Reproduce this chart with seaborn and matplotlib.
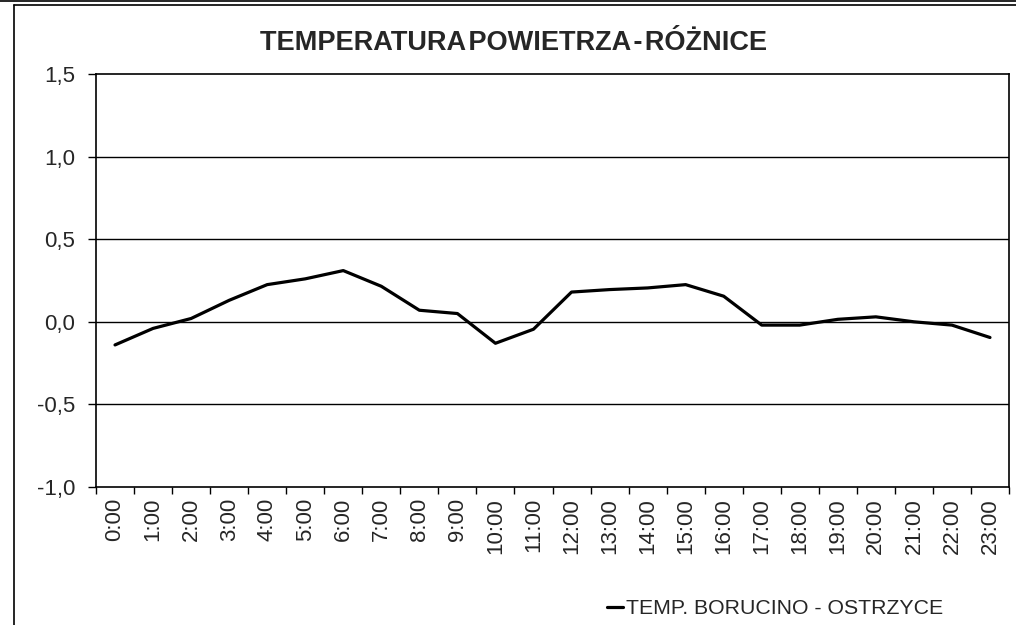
import numpy as np
import pandas as pd
import matplotlib
matplotlib.use("Agg")
import matplotlib.pyplot as plt
from matplotlib.lines import Line2D
import seaborn as sns

# ---- data ----
hours = [f"{h}:00" for h in range(24)]
diff_values = [-0.14, -0.04, 0.02, 0.13, 0.225, 0.26, 0.31, 0.215, 0.07, 0.05,
               -0.13, -0.045, 0.18, 0.195, 0.205, 0.225, 0.155, -0.02, -0.02, 0.015,
               0.03, 0.0, -0.02, -0.095]
series_name = "TEMP. BORUCINO - OSTRZYCE"
title_text = "TEMPERATURA\u200aPOWIETRZA\u200a-\u200aRÓŻNICE"
y_ticks = [-1.0, -0.5, 0.0, 0.5, 1.0, 1.5]
y_tick_labels = ["-1,0", "-0,5", "0,0", "0,5", "1,0", "1,5"]

sns.set_style("white")
plt.rcParams['font.family'] = ['Liberation Sans', 'DejaVu Sans']

W, H = 1016, 625
fig = plt.figure(figsize=(W / 100, H / 100), dpi=100)
ax = fig.add_axes([96 / W, 1 - 487 / H, (1009 - 96) / W, (487 - 74) / H])

df = pd.DataFrame({"pos": np.arange(len(hours)), "val": diff_values, "series": series_name})
sns.lineplot(data=df, x="pos", y="val", hue="series", palette=["black"],
             linewidth=2.3, ax=ax, legend=True)

ax.set_xlim(-0.5, len(hours) - 0.5)
ax.set_ylim(-1.0, 1.5)

# y axis
ax.set_yticks(y_ticks)
ax.set_yticklabels(y_tick_labels, fontsize=16)
for yv in y_ticks[1:-1]:
    ax.axhline(yv, color="black", linewidth=1.0, zorder=0)

# x axis: ticks at boundaries, labels at centres
ax.set_xticks(np.arange(-0.5, len(hours), 1.0))
ax.set_xticklabels([])
ax.set_xticks(np.arange(len(hours)), minor=True)
ax.set_xticklabels(hours, minor=True, rotation=90, fontsize=16)
ax.tick_params(axis="x", which="major", direction="out", length=5, width=1, color="black", bottom=True)
ax.tick_params(axis="x", which="minor", length=0, pad=8)
ax.tick_params(axis="y", direction="out", length=6, width=1, color="black", left=True, pad=9)

ax.set_xlabel("")
ax.set_ylabel("")
for sp in ax.spines.values():
    sp.set_visible(True)
    sp.set_color("black")
    sp.set_linewidth(1.2)

# title
fig.text(514 / W, 1 - 43 / H, title_text, ha="center", va="center",
         fontsize=19.5, fontweight="bold")

# legend
handles, labels = ax.get_legend_handles_labels()
ax.get_legend().remove()
fig.legend(handles, labels, loc="center left", bbox_to_anchor=(607 / W, 1 - 609 / H),
           frameon=False, fontsize=15.3, handlelength=0.75, handletextpad=0.15,
           borderpad=0, borderaxespad=0)

# outer frame
fig.add_artist(Line2D([0, 1], [1 - 0.8 / H, 1 - 0.8 / H], transform=fig.transFigure,
                      color="black", linewidth=1.2))
fig.add_artist(Line2D([14 / W, 1], [1 - 5 / H, 1 - 5 / H], transform=fig.transFigure,
                      color="black", linewidth=1.2))
fig.add_artist(Line2D([14 / W, 14 / W], [0, 1 - 5 / H], transform=fig.transFigure,
                      color="black", linewidth=1.2))

fig.savefig("out.png", dpi=100, facecolor="white")
